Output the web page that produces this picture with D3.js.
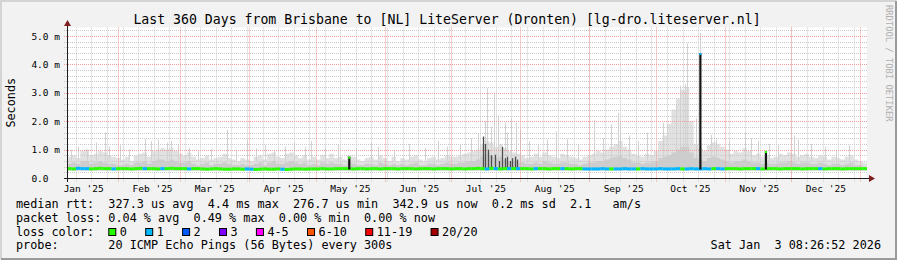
<!DOCTYPE html>
<html>
<head>
<meta charset="utf-8">
<script src="https://cdn.jsdelivr.net/npm/d3@7"></script>
<style>
  html, body { margin: 0; padding: 0; background: #f2f2f2; }
  svg { display: block; }
  text { font-family: "DejaVu Sans Mono", monospace; fill: #000; white-space: pre; }
</style>
</head>
<body>
<svg id="chart" width="897" height="260"></svg>
<script>
// ----------------------------------------------------------------------------------------------------------------------
// CHART DATA -----------------------------------------------------------------------------------------------------------
// ----------------------------------------------------------------------------------------------------------------------

var graphTitle = "Last 360 Days from Brisbane to [NL] LiteServer (Dronten) [lg-dro.liteserver.nl]";
var graphStart = "2025-01-08T23:30:00Z";
var graphEnd = "2026-01-03T23:30:00Z";
var binHours = 48;

// Y axis (ms)
var yMax = 5.3;
var yTicks = [0, 1, 2, 3, 4, 5];
var yTickLabels = ["0.0  ", "1.0 m", "2.0 m", "3.0 m", "4.0 m", "5.0 m"];

// X axis labels (one per month, starting Jan 2025)
var monthLabels = ["Jan '25", "Feb '25", "Mar '25", "Apr '25", "May '25", "Jun '25",
                   "Jul '25", "Aug '25", "Sep '25", "Oct '25", "Nov '25", "Dec '25"];

// Smoke: lowest ping, upper edge of the dense smoke, upper edge of the light smoke (ms, one value per 2 day bin)
var smokeFloor = 0.26;
var smokeMax = [
  0.75, 0.8, 0.7, 0.95, 1.0, 0.8, 0.85, 0.95, 0.9, 0.8, 0.75, 0.7,
  0.65, 0.75, 0.6, 0.8, 0.85, 0.9, 0.75, 0.95, 1.0, 1.05, 1.0, 1.05, 0.95, 0.85,
  0.8, 0.9, 0.75, 0.65, 0.7, 0.8, 0.65, 0.7, 0.75, 0.85, 0.7, 0.65, 0.6, 0.7, 0.65,
  0.6, 0.75, 0.8, 0.65, 0.85, 0.9, 0.75, 0.7, 0.85, 0.9, 0.8, 0.7, 0.8, 0.65, 0.75,
  0.65, 0.8, 0.7, 0.85, 0.7, 0.75, 0.65, 0.8, 0.75, 0.65, 0.6, 0.7, 0.75, 0.65, 0.8, 0.7,
  0.6, 0.75, 0.6, 0.7, 0.65, 0.75, 0.8, 0.65, 0.6, 0.7, 0.75, 0.65, 0.7, 0.8, 0.75,
  0.75, 0.8, 0.85, 0.9, 0.95, 1.0, 1.15, 1.3, 1.25, 1.1, 1.2, 1.05, 0.95, 0.9, 0.85,
  0.8, 0.7, 0.75, 0.85, 0.75, 0.9, 0.8, 0.75, 0.7, 0.85, 0.8, 0.75, 0.7, 0.65, 0.75, 0.8,
  0.85, 0.95, 0.9, 1.0, 1.1, 1.2, 1.3, 1.1, 1.0, 0.85, 0.8, 0.75, 0.85, 0.8, 0.95,
  1.3, 1.5, 1.9, 2.4, 2.8, 3.1, 3.2, 2.0, 1.2, 1.05, 0.95, 1.15, 1.25, 1.2, 1.1, 1.0,
  0.85, 0.95, 0.9, 1.05, 0.95, 0.8, 0.85, 0.75, 0.8, 0.7, 0.75, 0.85, 0.8, 0.9, 0.85,
  0.75, 0.8, 0.85, 0.75, 0.7, 0.8, 0.75, 0.65, 0.75, 0.7, 0.65, 0.75, 0.8, 0.65, 0.6, 0.55
];
var smokeMid = [
  0.5, 0.55, 0.5, 0.6, 0.6, 0.5, 0.55, 0.6, 0.55, 0.5, 0.5, 0.45,
  0.45, 0.5, 0.45, 0.55, 0.55, 0.6, 0.5, 0.6, 0.65, 0.65, 0.6, 0.65, 0.6, 0.55,
  0.55, 0.6, 0.5, 0.45, 0.5, 0.55, 0.45, 0.5, 0.5, 0.55, 0.5, 0.45, 0.45, 0.5, 0.45,
  0.45, 0.5, 0.55, 0.45, 0.55, 0.6, 0.5, 0.5, 0.55, 0.6, 0.55, 0.5, 0.55, 0.45, 0.5,
  0.45, 0.55, 0.5, 0.55, 0.5, 0.5, 0.45, 0.55, 0.5, 0.45, 0.45, 0.5, 0.5, 0.45, 0.55, 0.5,
  0.45, 0.5, 0.45, 0.5, 0.45, 0.5, 0.55, 0.45, 0.45, 0.5, 0.5, 0.45, 0.5, 0.55, 0.5,
  0.5, 0.55, 0.55, 0.6, 0.6, 0.65, 0.75, 0.85, 0.8, 0.7, 0.75, 0.65, 0.6, 0.6, 0.55,
  0.55, 0.5, 0.5, 0.55, 0.5, 0.6, 0.55, 0.5, 0.5, 0.55, 0.55, 0.5, 0.5, 0.45, 0.5, 0.55,
  0.55, 0.6, 0.6, 0.65, 0.7, 0.75, 0.8, 0.7, 0.65, 0.55, 0.55, 0.5, 0.55, 0.55, 0.6,
  0.7, 0.75, 0.8, 0.9, 1.0, 1.1, 1.1, 0.9, 0.7, 0.65, 0.6, 0.7, 0.75, 0.7, 0.65, 0.6,
  0.55, 0.6, 0.6, 0.65, 0.6, 0.55, 0.55, 0.5, 0.55, 0.5, 0.5, 0.55, 0.55, 0.6, 0.55,
  0.5, 0.55, 0.55, 0.5, 0.5, 0.55, 0.5, 0.45, 0.5, 0.5, 0.45, 0.5, 0.55, 0.45, 0.45, 0.4
];

// Median rtt (ms) and lost pings per bin
var medianRtt = [
  0.33, 0.32, 0.34, 0.33, 0.33, 0.32, 0.33, 0.34, 0.33, 0.33, 0.32, 0.33,
  0.33, 0.33, 0.32, 0.33, 0.34, 0.33, 0.33, 0.33, 0.32, 0.33, 0.33, 0.34, 0.33, 0.33,
  0.33, 0.32, 0.33, 0.33, 0.32, 0.31, 0.32, 0.33, 0.32, 0.31, 0.31, 0.32, 0.32, 0.31, 0.32,
  0.31, 0.30, 0.31, 0.32, 0.31, 0.31, 0.32, 0.31, 0.30, 0.31, 0.32, 0.32, 0.31, 0.32, 0.32,
  0.32, 0.33, 0.32, 0.32, 0.33, 0.33, 0.33, 0.33, 0.32, 0.33, 0.33, 0.32, 0.33, 0.33, 0.32, 0.33,
  0.33, 0.33, 0.32, 0.33, 0.33, 0.33, 0.32, 0.33, 0.33, 0.33, 0.32, 0.33, 0.33, 0.33, 0.32,
  0.33, 0.33, 0.32, 0.33, 0.33, 0.34, 0.33, 0.32, 0.34, 0.33, 0.32, 0.33, 0.33, 0.33, 0.33,
  0.33, 0.33, 0.32, 0.33, 0.33, 0.33, 0.32, 0.33, 0.33, 0.33, 0.33, 0.32, 0.33, 0.33, 0.32, 0.32,
  0.32, 0.32, 0.33, 0.32, 0.32, 0.32, 0.32, 0.33, 0.32, 0.32, 0.32, 0.33, 0.32, 0.32, 0.32,
  0.33, 0.32, 0.32, 0.32, 0.33, 0.32, 0.32, 0.33, 0.32, 0.32, 0.33, 0.32, 0.33, 0.33, 0.32, 0.33,
  0.33, 0.33, 0.32, 0.33, 0.33, 0.33, 0.33, 0.32, 0.33, 0.33, 0.33, 0.32, 0.33, 0.33, 0.33,
  0.33, 0.32, 0.33, 0.33, 0.33, 0.33, 0.32, 0.33, 0.33, 0.33, 0.32, 0.33, 0.33, 0.33, 0.33, 0.33
];
var lossCount = [
  0, 0, 1, 1, 1, 0, 0, 0, 0, 0, 1, 0,
  0, 0, 0, 0, 0, 1, 0, 0, 0, 1, 0, 0, 0, 0,
  0, 1, 0, 0, 0, 0, 0, 0, 0, 0, 0, 0, 0, 0, 1,
  1, 0, 0, 0, 0, 0, 0, 1, 0, 0, 0, 0, 0, 0, 0,
  0, 0, 0, 0, 0, 0, 0, 0, 0, 0, 0, 0, 0, 0, 0, 0,
  0, 0, 0, 0, 0, 0, 0, 0, 0, 0, 0, 0, 0, 0, 0,
  0, 0, 0, 0, 0, 0, 0, 1, 0, 1, 0, 0, 1, 0, 1,
  0, 0, 0, 1, 0, 0, 0, 0, 0, 1, 0, 0, 0, 0, 1, 1,
  1, 1, 1, 1, 0, 1, 1, 1, 1, 1, 0, 1, 1, 1, 1,
  1, 1, 1, 1, 1, 0, 1, 1, 1, 1, 1, 1, 0, 1, 1, 0,
  0, 0, 0, 0, 0, 0, 1, 0, 0, 0, 0, 0, 0, 0, 0,
  0, 0, 0, 0, 0, 1, 0, 0, 0, 0, 0, 0, 0, 0, 0, 0
];

// Single high pings (thin light smoke lines)
var spikeDates = [
  "2025-01-11", "2025-01-14", "2025-01-18", "2025-01-22", "2025-01-26", "2025-01-28", "2025-02-02", "2025-02-06",
  "2025-02-13", "2025-02-16", "2025-02-19", "2025-02-23", "2025-02-25", "2025-02-28", "2025-03-05", "2025-03-09",
  "2025-03-15", "2025-03-22", "2025-03-26", "2025-03-31", "2025-04-04", "2025-04-08", "2025-04-12", "2025-04-17",
  "2025-04-21", "2025-04-26", "2025-04-29", "2025-05-05", "2025-05-11", "2025-05-19", "2025-05-26", "2025-05-29",
  "2025-06-05", "2025-06-12", "2025-06-19", "2025-06-25", "2025-06-29", "2025-07-05", "2025-07-10", "2025-07-13",
  "2025-07-16", "2025-07-17", "2025-07-19", "2025-07-20", "2025-07-22", "2025-07-25", "2025-07-26", "2025-07-28",
  "2025-07-30", "2025-08-01", "2025-08-05", "2025-08-09", "2025-08-13", "2025-08-17", "2025-08-22", "2025-08-27",
  "2025-09-03", "2025-09-07", "2025-09-11", "2025-09-14", "2025-09-15", "2025-09-19", "2025-09-23", "2025-09-27",
  "2025-10-04", "2025-10-10", "2025-10-12", "2025-10-14", "2025-10-15", "2025-10-19", "2025-10-21", "2025-10-26",
  "2025-10-28", "2025-11-03", "2025-11-10", "2025-11-13", "2025-11-16", "2025-11-21", "2025-11-25", "2025-12-02",
  "2025-12-04", "2025-12-10", "2025-12-16", "2025-12-21", "2025-12-27"
];
var spikeValues = [
  1.0, 1.1, 1.0, 1.25, 1.6, 1.1, 1.15, 1.0,
  1.37, 1.3, 1.35, 1.25, 1.3, 1.15, 1.05, 0.95,
  1.0, 1.7, 1.0, 1.35, 1.05, 1.15, 1.0, 1.1,
  1.25, 1.1, 1.3, 1.05, 1.2, 1.05, 1.25, 1.1,
  1.0, 1.2, 1.05, 1.3, 1.1, 1.2, 1.4, 1.55,
  2.0, 3.17, 1.8, 3.0, 2.2, 1.95, 1.6, 2.1,
  1.95, 1.7, 1.3, 1.2, 1.35, 1.64, 1.38, 1.2,
  2.05, 1.4, 1.88, 2.3, 1.95, 1.5, 1.3, 1.6,
  1.95, 2.6, 3.25, 3.3, 4.75, 2.1, 5.1, 1.52,
  1.35, 1.3, 1.6, 1.4, 1.3, 1.2, 1.15, 1.5,
  1.35, 1.2, 1.1, 1.0, 1.15
];

// Dense dark smoke in July
var darkDates = [
  "2025-07-15T04:00Z", "2025-07-16T02:00Z", "2025-07-17T10:00Z", "2025-07-18T19:00Z", "2025-07-20T14:00Z",
  "2025-07-22T09:00Z", "2025-07-23T17:00Z", "2025-07-25T02:00Z", "2025-07-25T23:00Z", "2025-07-27T08:00Z",
  "2025-07-28T05:00Z", "2025-07-29T14:00Z", "2025-07-30T11:00Z"
];
var darkValues = [1.46, 1.2, 1.0, 0.8, 0.82, 0.6, 1.1, 0.7, 0.75, 0.6, 0.7, 0.75, 0.65];

// Median jumps (dark bars) with their loss at the top
var jumpDates = ["2025-05-16", "2025-10-21", "2025-11-19T12:00Z"];
var jumpValues = [0.75, 4.4, 0.95];
var jumpLoss = [0, 1, 0];

// Legend
var lossLabels = ["0", "1", "2", "3", "4-5", "6-10", "11-19", "20/20"];
var lossColors = ["#26ff00", "#00b8ff", "#0059ff", "#7e00ff", "#ff00ff", "#ff5500", "#ff0000", "#a10000"];
var legendLines = [
  "median rtt:  327.3 us avg  4.4 ms max  276.7 us min  342.9 us now  0.2 ms sd  2.1   am/s",
  "packet loss: 0.04 % avg  0.49 % max  0.00 % min  0.00 % now",
  "loss color:",
  "probe:       20 ICMP Echo Pings (56 Bytes) every 300s"
];
var graphDate = "Sat Jan  3 08:26:52 2026";

// ----------------------------------------------------------------------------------------------------------------------
// SETUP ----------------------------------------------------------------------------------------------------------------
// ----------------------------------------------------------------------------------------------------------------------

var W = 897, H = 260;
var plotL = 67, plotR = 867, plotT = 27.5, plotB = 178;

var t0 = d3.isoParse(graphStart),
    t1 = d3.isoParse(graphEnd);

var x = d3.scaleUtc().domain([t0, t1]).range([plotL, plotR]);
var y = d3.scaleLinear().domain([0, yMax]).range([plotB, plotT]);

function crisp(v) { return Math.round(v) + 0.5; }

var svg = d3.select("#chart");

// Background with 3D border
svg.append("rect").attr("width", W).attr("height", H).attr("fill", "#f2f2f2");
svg.append("path").attr("d", "M1,259V1H896").attr("fill", "none").attr("stroke", "#d4d4d4").attr("stroke-width", 2);
svg.append("path").attr("d", "M1,259H896V1").attr("fill", "none").attr("stroke", "#9a9a9a").attr("stroke-width", 2);

// Canvas
svg.append("rect")
  .attr("x", plotL).attr("y", plotT)
  .attr("width", plotR - plotL).attr("height", plotB - plotT)
  .attr("fill", "#ffffff");

// Bins
var bins = smokeMax.map(function(v, i) {
  return {
    t: d3.utcHour.offset(t0, binHours * i),
    t2: d3.utcHour.offset(t0, binHours * (i + 1)),
    max: v,
    mid: smokeMid[i],
    med: medianRtt[i],
    loss: lossCount[i]
  };
});
var stepBins = bins.concat([{ t: t1, max: bins[bins.length - 1].max, mid: bins[bins.length - 1].mid }]);

// ----------------------------------------------------------------------------------------------------------------------
// SMOKE ----------------------------------------------------------------------------------------------------------------
// ----------------------------------------------------------------------------------------------------------------------

var lightArea = d3.area()
  .x(function(d) { return x(d.t); })
  .y0(y(smokeFloor))
  .y1(function(d) { return y(d.max); })
  .curve(d3.curveStepAfter);

var midArea = d3.area()
  .x(function(d) { return x(d.t); })
  .y0(y(smokeFloor))
  .y1(function(d) { return y(d.mid); })
  .curve(d3.curveStepAfter);

svg.append("path").datum(stepBins).attr("d", lightArea).attr("fill", "#e1e1e1");

// Thin single spikes
svg.append("g").selectAll("line")
  .data(spikeDates)
  .join("line")
  .attr("x1", function(d) { return crisp(x(d3.isoParse(d))); })
  .attr("x2", function(d) { return crisp(x(d3.isoParse(d))); })
  .attr("y1", y(0.6))
  .attr("y2", function(d, i) { return y(spikeValues[i]); })
  .attr("stroke", "#d2d2d2")
  .attr("stroke-width", 1);

svg.append("path").datum(stepBins).attr("d", midArea).attr("fill", "#cdcdcd");

// ----------------------------------------------------------------------------------------------------------------------
// GRID -----------------------------------------------------------------------------------------------------------------
// ----------------------------------------------------------------------------------------------------------------------

var gridMinor = "#cacaca", gridMajor = "#f59a9a";
var grid = svg.append("g").attr("stroke-width", 1).attr("stroke-dasharray", "1,1").attr("fill", "none");

var minorY = y.ticks(27).filter(function(v) { return Math.abs(v - Math.round(v)) > 1e-6; });

grid.selectAll(".hminor").data(minorY).join("line")
  .attr("x1", plotL - 3).attr("x2", plotR + 1)
  .attr("y1", function(d) { return crisp(y(d)); })
  .attr("y2", function(d) { return crisp(y(d)); })
  .attr("stroke", gridMinor);

grid.selectAll(".vminor").data(d3.utcMonday.range(t0, t1)).join("line")
  .attr("x1", function(d) { return crisp(x(d)); })
  .attr("x2", function(d) { return crisp(x(d)); })
  .attr("y1", plotT).attr("y2", plotB + 4)
  .attr("stroke", gridMinor);

grid.selectAll(".hmajor").data(yTicks.slice(1)).join("line")
  .attr("x1", plotL - 3).attr("x2", plotR + 1)
  .attr("y1", function(d) { return crisp(y(d)); })
  .attr("y2", function(d) { return crisp(y(d)); })
  .attr("stroke", gridMajor);

grid.selectAll(".vmajor").data(d3.utcMonth.range(t0, t1)).join("line")
  .attr("x1", function(d) { return crisp(x(d)); })
  .attr("x2", function(d) { return crisp(x(d)); })
  .attr("y1", plotT).attr("y2", plotB + 4)
  .attr("stroke", gridMajor);

// ----------------------------------------------------------------------------------------------------------------------
// MEDIAN ---------------------------------------------------------------------------------------------------------------
// ----------------------------------------------------------------------------------------------------------------------

// Dark smoke in July
svg.append("g").selectAll("line")
  .data(darkDates)
  .join("line")
  .attr("x1", function(d) { return crisp(x(d3.isoParse(d))); })
  .attr("x2", function(d) { return crisp(x(d3.isoParse(d))); })
  .attr("y1", y(0.3))
  .attr("y2", function(d, i) { return y(darkValues[i]); })
  .attr("stroke", "#4e4e4e")
  .attr("stroke-width", 1.3);

// Median line, coloured by loss
svg.append("g").selectAll("line")
  .data(bins)
  .join("line")
  .attr("x1", function(d) { return x(d.t); })
  .attr("x2", function(d) { return x(d.t2); })
  .attr("y1", function(d) { return y(d.med); })
  .attr("y2", function(d) { return y(d.med); })
  .attr("stroke", function(d) { return lossColors[d.loss]; })
  .attr("stroke-width", 3);

// Median jumps
var jumps = svg.append("g").selectAll("g")
  .data(jumpDates)
  .join("g");

jumps.append("line")
  .attr("x1", function(d) { return x(d3.isoParse(d)); })
  .attr("x2", function(d) { return x(d3.isoParse(d)); })
  .attr("y1", y(0.3))
  .attr("y2", function(d, i) { return y(jumpValues[i]); })
  .attr("stroke", "#151515")
  .attr("stroke-width", 2.2);

jumps.append("line")
  .attr("x1", function(d) { return x(d3.isoParse(d)); })
  .attr("x2", function(d) { return x(d3.isoParse(d)); })
  .attr("y1", function(d, i) { return y(jumpValues[i]) + 2; })
  .attr("y2", function(d, i) { return y(jumpValues[i]); })
  .attr("stroke", function(d, i) { return lossColors[jumpLoss[i]]; })
  .attr("stroke-width", 2.2);

// ----------------------------------------------------------------------------------------------------------------------
// AXES -----------------------------------------------------------------------------------------------------------------
// ----------------------------------------------------------------------------------------------------------------------

svg.append("line")
  .attr("x1", crisp(plotL)).attr("x2", crisp(plotL))
  .attr("y1", plotT - 3).attr("y2", plotB + 4)
  .attr("stroke", "#1e1e1e");
svg.append("line")
  .attr("x1", plotL - 3).attr("x2", plotR + 4)
  .attr("y1", crisp(plotB)).attr("y2", crisp(plotB))
  .attr("stroke", "#1e1e1e");

// Arrows
svg.append("path")
  .attr("d", "M" + (plotL + 0.5) + ",20 L" + (plotL + 4) + ",26 L" + (plotL - 3) + ",26 Z")
  .attr("fill", "#7f1f1f");
svg.append("path")
  .attr("d", "M875," + (plotB + 0.5) + " L869," + (plotB - 3) + " L869," + (plotB + 4) + " Z")
  .attr("fill", "#7f1f1f");

// Y labels
var yAxis = svg.append("g")
  .attr("transform", "translate(" + plotL + ",0)")
  .call(d3.axisLeft(y)
    .tickValues(yTicks)
    .tickSize(0)
    .tickPadding(7)
    .tickFormat(function(d, i) { return yTickLabels[i]; }));
yAxis.select(".domain").remove();
yAxis.attr("font-family", "DejaVu Sans Mono").attr("font-size", 9.5);
yAxis.selectAll("text").attr("xml:space", "preserve").attr("fill", "#000");

// Month labels, in the middle of each month
var labelTimes = d3.utcMonth.range(new Date(Date.UTC(2025, 0, 1)), new Date(Date.UTC(2026, 0, 1)))
  .map(function(m) { return d3.utcHour.offset(m, 366); });

var xAxis = svg.append("g")
  .attr("transform", "translate(0," + plotB + ")")
  .call(d3.axisBottom(x)
    .tickValues(labelTimes)
    .tickSize(0)
    .tickPadding(6.8)
    .tickFormat(function(d, i) { return monthLabels[i]; }));
xAxis.select(".domain").remove();
xAxis.attr("font-family", "DejaVu Sans Mono").attr("font-size", 9.5);
xAxis.selectAll("text").attr("xml:space", "preserve").attr("fill", "#000");

// Y axis title
svg.append("text")
  .attr("transform", "translate(15," + ((plotT + plotB) / 2) + ") rotate(-90)")
  .attr("text-anchor", "middle")
  .style("font-size", "11.8px")
  .text("Seconds");

// Title
svg.append("text")
  .attr("x", 447).attr("y", 24)
  .attr("text-anchor", "middle")
  .style("font-size", "13.2px")
  .text(graphTitle);

// Watermark
svg.append("text")
  .attr("transform", "translate(886,5) rotate(90)")
  .style("font-size", "8.8px")
  .style("fill", "#b0b0b0")
  .text("RRDTOOL / TOBI OETIKER");

// ----------------------------------------------------------------------------------------------------------------------
// LEGEND ---------------------------------------------------------------------------------------------------------------
// ----------------------------------------------------------------------------------------------------------------------

var legendY = [208, 221.8, 235.6, 249.4];

svg.append("g").selectAll("text")
  .data(legendLines)
  .join("text")
  .attr("x", 16)
  .attr("y", function(d, i) { return legendY[i]; })
  .attr("xml:space", "preserve")
  .style("font-size", "11.8px")
  .text(function(d) { return d; });

// Loss colour boxes
var charW = 11.8 * 0.602, boxX = [], bx = 108.3;
lossLabels.forEach(function(l) { boxX.push(bx); bx += 11 + l.length * charW + 18.8; });

var boxes = svg.append("g").selectAll("g")
  .data(lossLabels)
  .join("g")
  .attr("transform", function(d, i) { return "translate(" + boxX[i] + ",0)"; });

boxes.append("rect")
  .attr("x", 0.5).attr("y", 228.5)
  .attr("width", 7).attr("height", 7)
  .attr("fill", function(d, i) { return lossColors[i]; })
  .attr("stroke", "#000");

boxes.append("text")
  .attr("x", 11.5).attr("y", legendY[2])
  .style("font-size", "11.8px")
  .text(function(d) { return d; });

svg.append("text")
  .attr("x", 881).attr("y", legendY[3])
  .attr("text-anchor", "end")
  .attr("xml:space", "preserve")
  .style("font-size", "11.8px")
  .text(graphDate);
</script>
</body>
</html>
